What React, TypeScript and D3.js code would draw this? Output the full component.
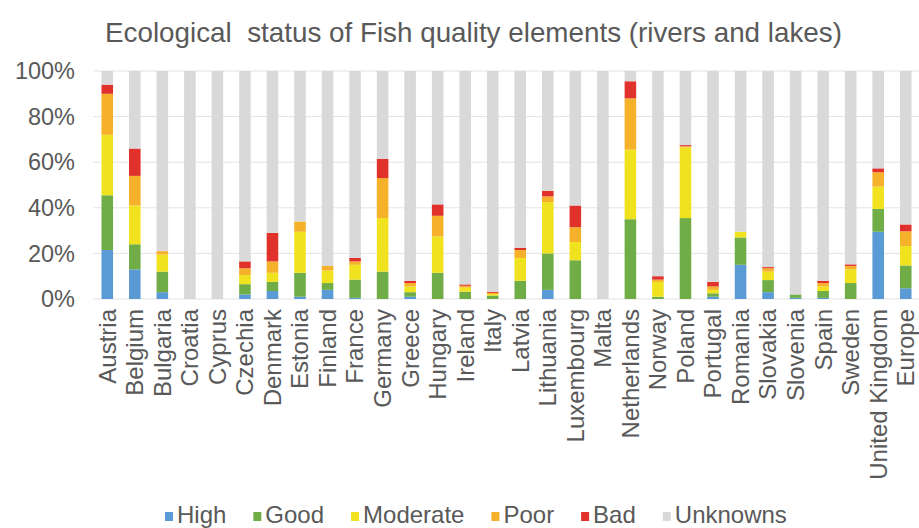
import React from 'react';
import * as d3 from 'd3';

const categories = [
  'Austria', 'Belgium', 'Bulgaria', 'Croatia', 'Cyprus', 'Czechia', 'Denmark', 'Estonia',
  'Finland', 'France', 'Germany', 'Greece', 'Hungary', 'Ireland', 'Italy', 'Latvia',
  'Lithuania', 'Luxembourg', 'Malta', 'Netherlands', 'Norway', 'Poland', 'Portugal',
  'Romania', 'Slovakia', 'Slovenia', 'Spain', 'Sweden', 'United Kingdom', 'Europe',
];

// percentages
const high = [21.5, 13, 3, 0, 0, 2, 3.5, 1, 4, 0.5, 0, 1, 0, 0, 0, 0, 4, 0, 0, 0, 0, 0, 1, 15, 3, 0.5, 0.5, 0, 29.5, 4.7];
const good = [24, 11, 9, 0, 0, 4.5, 4, 10.5, 3, 8, 12, 2, 11.5, 3.2, 1.5, 8, 16, 17, 0, 35, 1, 35.5, 1.5, 12, 5.3, 1.5, 3, 7, 10, 10];
const moderate = [26.5, 17, 7.5, 0, 0, 4, 4, 18, 5.5, 6.5, 23.5, 2.5, 16, 1.8, 0.7, 10, 22.5, 8, 0, 30.5, 6.5, 31, 1.5, 2.5, 3.7, 0, 2, 6, 9.8, 8.5];
const poor = [18, 13, 1.5, 0, 0, 3, 5, 4.5, 2, 1.5, 17.5, 1.5, 9, 0.8, 0.5, 3.5, 2.5, 6.5, 0, 22.5, 1, 0.5, 1.5, 0, 1.5, 0, 1.5, 1.5, 6.3, 6.5];
const bad = [4, 12, 0, 0, 0, 3, 12.5, 0, 0, 1.5, 8.5, 1, 5, 0.6, 0.5, 1, 2.5, 9.5, 0, 7.5, 1.5, 0.5, 2, 0, 0.5, 0, 1, 0.7, 1.7, 3];
const unknowns = [6, 34, 79, 100, 100, 83.5, 71, 66, 85.5, 82, 38.5, 92, 58.5, 93.6, 96.8, 77.5, 52.5, 59, 100, 4.5, 90, 32.5, 92.5, 70.5, 86, 98, 92, 84.8, 42.7, 67.3];

const seriesNames = ['High', 'Good', 'Moderate', 'Poor', 'Bad', 'Unknowns'];
const seriesColors = ['#5b9bd5', '#70ad47', '#f1e21f', '#f6b12b', '#e0312b', '#d9d9d9'];
const yTicks = [0, 20, 40, 60, 80, 100];

const W = 919;
const H = 528;
const margin = { top: 71, bottom: 229, left: 93.5, right: -0.5 };
const textColor = '#595959';
const font = '"Liberation Sans", Arial, sans-serif';

// rough text width for the legend layout (Arial-like metrics)
const charW: Record<string, number> = {
  H: 0.722, i: 0.222, g: 0.556, h: 0.556, G: 0.778, o: 0.556, d: 0.556, M: 0.833, e: 0.556,
  r: 0.333, a: 0.556, t: 0.278, P: 0.667, B: 0.667, U: 0.722, n: 0.556, k: 0.5, w: 0.722, s: 0.5,
};
const textWidth = (s: string, size: number) => d3.sum(s.split(''), ch => charW[ch] ?? 0.556) * size;

export default function App() {
  const table = categories.map((c, i) => ({
    country: c,
    High: high[i], Good: good[i], Moderate: moderate[i], Poor: poor[i], Bad: bad[i], Unknowns: unknowns[i],
  }));
  const stacked = d3.stack<any>().keys(seriesNames)(table);

  const x = d3.scaleBand<string>()
    .domain(categories)
    .range([margin.left, W - margin.right])
    .paddingInner(0.58)
    .paddingOuter(0.29);
  const y = d3.scaleLinear().domain([0, 100]).range([H - margin.bottom, margin.top]);

  // legend layout
  const legendFont = 24;
  const legendX: number[] = [];
  let lx = 165;
  seriesNames.forEach(n => {
    legendX.push(lx);
    lx += 12 + textWidth(n, legendFont) + 27;
  });

  return (
    <svg width={W} height={H} style={{ position: 'absolute', left: 0, top: 0, background: '#fff' }} fontFamily={font}>
      <text x={105} y={42} fontSize={27.8} fill={textColor}>
        Ecological&#160; status of Fish quality elements (rivers and lakes)
      </text>

      {yTicks.map(t => (
        <g key={t}>
          <line x1={margin.left} x2={W} y1={y(t)} y2={y(t)} stroke="#e3e3e3" strokeWidth={1} />
          <text x={75} y={y(t)} dy="0.35em" textAnchor="end" fontSize={23.5} fill={textColor}>{t}%</text>
        </g>
      ))}

      {stacked.map((s, si) => (
        <g key={s.key} fill={seriesColors[si]}>
          {s.map((d, i) => (
            <rect
              key={i}
              x={x(categories[i])}
              width={x.bandwidth()}
              y={y(d[1])}
              height={Math.max(0, y(d[0]) - y(d[1]))}
            />
          ))}
        </g>
      ))}

      {categories.map(c => (
        <text
          key={c}
          transform={`translate(${(x(c) ?? 0) + x.bandwidth() / 2},${H - margin.bottom + 10}) rotate(-90)`}
          dy="0.35em"
          textAnchor="end"
          fontSize={24}
          fill={textColor}
        >
          {c}
        </text>
      ))}

      {seriesNames.map((n, i) => (
        <g key={n} transform={`translate(${legendX[i]},523)`}>
          <rect x={0} y={-11} width={8} height={9} fill={seriesColors[i]} />
          <text x={12} y={0} fontSize={legendFont} fill={textColor}>{n}</text>
        </g>
      ))}
    </svg>
  );
}
